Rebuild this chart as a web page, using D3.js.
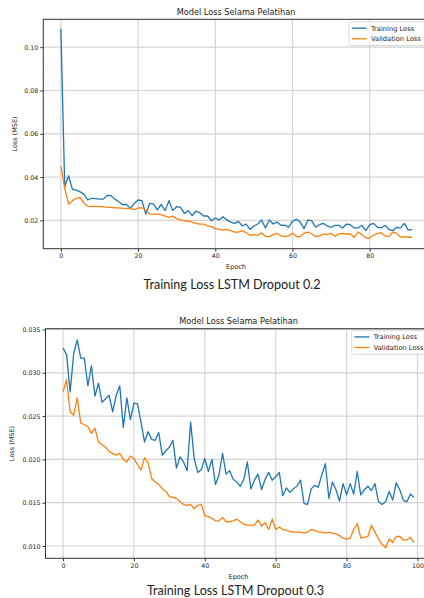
<!DOCTYPE html>
<html>
<head>
<meta charset="utf-8">
<script src="https://cdn.jsdelivr.net/npm/d3@7"></script>
<style>
  html, body { margin: 0; padding: 0; background: #ffffff; }
  svg { display: block; }
  text { font-family: "DejaVu Sans", sans-serif; fill: #222; }
</style>
</head>
<body>
<svg id="chart" width="424" height="598"></svg>
<script>
// ---------- DATA ----------
const chartTitle = "Model Loss Selama Pelatihan";
const seriesNames = ["Training Loss", "Validation Loss"];
const xLabel = "Epoch";
const yLabel = "Loss (MSE)";
const captions = ["Training Loss LSTM Dropout 0.2", "Training Loss LSTM Dropout 0.3"];

const xTicks1 = [0, 20, 40, 60, 80];
const yTicks1 = [0.02, 0.04, 0.06, 0.08, 0.10];
const xTicks2 = [0, 20, 40, 60, 80, 100];
const yTicks2 = [0.010, 0.015, 0.020, 0.025, 0.030, 0.035];

// Dropout 0.2 (epochs 0..91)
const train1 = [0.1085,0.0355,0.0406,0.0343,0.0340,0.0332,0.0320,0.0294,0.0302,0.0300,
  0.0298,0.0298,0.0315,0.0314,0.0298,0.0286,0.0272,0.0274,0.0254,0.0278,
  0.0294,0.0291,0.0229,0.0278,0.0275,0.0248,0.0274,0.0245,0.0291,0.0245,
  0.0263,0.0260,0.0232,0.0245,0.0222,0.0243,0.0235,0.0220,0.0220,0.0198,
  0.0211,0.0202,0.0217,0.0202,0.0192,0.0186,0.0195,0.0174,0.0183,0.0158,
  0.0174,0.0183,0.0202,0.0165,0.0202,0.0183,0.0192,0.0177,0.0178,0.0168,
  0.0195,0.0205,0.0192,0.0162,0.0202,0.0198,0.0168,0.0180,0.0186,0.0174,
  0.0168,0.0177,0.0177,0.0165,0.0183,0.0180,0.0165,0.0165,0.0177,0.0152,
  0.0180,0.0186,0.0168,0.0165,0.0177,0.0158,0.0152,0.0168,0.0165,0.0186,
  0.0155,0.0158];
const val1 = [0.0451,0.0348,0.0275,0.0291,0.0302,0.0306,0.0278,0.0266,0.0265,0.0265,
  0.0263,0.0263,0.0260,0.0260,0.0258,0.0258,0.0255,0.0255,0.0254,0.0249,
  0.0257,0.0258,0.0248,0.0229,0.0229,0.0229,0.0226,0.0220,0.0214,0.0220,
  0.0208,0.0202,0.0198,0.0197,0.0192,0.0186,0.0183,0.0183,0.0174,0.0171,
  0.0162,0.0158,0.0155,0.0158,0.0152,0.0146,0.0146,0.0152,0.0143,0.0131,
  0.0134,0.0131,0.0143,0.0125,0.0125,0.0134,0.0140,0.0128,0.0125,0.0128,
  0.0140,0.0125,0.0125,0.0140,0.0146,0.0137,0.0125,0.0128,0.0137,0.0134,
  0.0140,0.0125,0.0137,0.0140,0.0137,0.0137,0.0122,0.0146,0.0134,0.0118,
  0.0118,0.0131,0.0140,0.0143,0.0128,0.0125,0.0146,0.0140,0.0122,0.0125,
  0.0122,0.0122];

// Dropout 0.3 (epochs 0..99)
const train2 = [0.03285,0.0321,0.0278,0.0322,0.0338,0.0317,0.0317,0.0285,0.0308,0.0273,
  0.0288,0.0266,0.0270,0.0274,0.0255,0.0274,0.0285,0.0237,0.0271,0.0246,
  0.0265,0.0264,0.0243,0.0220,0.0232,0.0223,0.0222,0.0231,0.0205,0.0210,
  0.0214,0.0222,0.0190,0.0203,0.0197,0.0187,0.0243,0.0201,0.0185,0.0188,
  0.0201,0.0186,0.0200,0.0171,0.0182,0.0207,0.0183,0.0187,0.0177,0.0174,
  0.0169,0.0177,0.0197,0.0166,0.0176,0.0183,0.0165,0.0177,0.0185,0.0176,
  0.0180,0.0185,0.0158,0.0167,0.0162,0.0166,0.0169,0.0176,0.0149,0.0148,
  0.0166,0.0170,0.0168,0.0182,0.0195,0.0155,0.0174,0.0165,0.0152,0.0172,
  0.0159,0.0172,0.0160,0.0186,0.0159,0.0165,0.0169,0.0164,0.0172,0.0151,
  0.0148,0.0151,0.0163,0.0153,0.0173,0.0165,0.0153,0.0151,0.0160,0.0156];
const val2 = [0.0278,0.0292,0.0255,0.0251,0.0271,0.0242,0.0240,0.0238,0.0230,0.0236,
  0.0220,0.0217,0.0214,0.0209,0.0207,0.0205,0.0207,0.0200,0.0197,0.0204,
  0.0201,0.0194,0.0188,0.0202,0.0196,0.0178,0.0174,0.0171,0.0166,0.0163,
  0.0157,0.0156,0.0155,0.0151,0.0148,0.0147,0.0148,0.0143,0.0147,0.0148,
  0.0135,0.0134,0.0132,0.0129,0.0129,0.0133,0.0128,0.0128,0.0129,0.0131,
  0.0128,0.0125,0.0124,0.0124,0.0124,0.0130,0.0123,0.0127,0.0119,0.0131,
  0.0119,0.0122,0.0119,0.0118,0.0117,0.0116,0.0116,0.0116,0.0115,0.0116,
  0.0119,0.0118,0.0116,0.0116,0.0115,0.0116,0.0115,0.0114,0.0112,0.0109,
  0.0108,0.0109,0.0119,0.0126,0.0109,0.0110,0.0111,0.0124,0.0116,0.0108,
  0.0102,0.0098,0.0108,0.0104,0.0111,0.0111,0.0107,0.0107,0.0110,0.0104];

const colors = ["#1f77b4", "#ff7f0e"];

// ---------- DRAW ----------
const svg = d3.select("#chart");

function drawPanel(cfg) {
  const g = svg.append("g");
  const x = d3.scaleLinear().domain(cfg.xDomain).range([cfg.left, cfg.right]);
  const y = d3.scaleLinear().domain(cfg.yDomain).range([cfg.bottom, cfg.top]);

  // grid
  g.append("g").selectAll("line").data(cfg.xTicks).join("line")
    .attr("x1", d => x(d)).attr("x2", d => x(d))
    .attr("y1", cfg.top).attr("y2", cfg.bottom)
    .attr("stroke", "#d4d4d4").attr("stroke-width", 1.2);
  g.append("g").selectAll("line").data(cfg.yTicks).join("line")
    .attr("x1", cfg.left).attr("x2", cfg.right)
    .attr("y1", d => y(d)).attr("y2", d => y(d))
    .attr("stroke", "#d4d4d4").attr("stroke-width", 1.2);

  // lines
  const line = d3.line().x((d, i) => x(i)).y(d => y(d));
  cfg.series.forEach((s, k) => {
    g.append("path").datum(s).attr("d", line)
      .attr("fill", "none").attr("stroke", colors[k])
      .attr("stroke-width", 1.3).attr("stroke-linejoin", "round");
  });

  // axes
  const xAxis = d3.axisBottom(x).tickValues(cfg.xTicks).tickSize(3).tickPadding(2).tickFormat(d3.format("d"));
  const yAxis = d3.axisLeft(y).tickValues(cfg.yTicks).tickSize(3).tickPadding(2).tickFormat(d3.format(cfg.yFmt));
  const gx = g.append("g").attr("transform", `translate(0,${cfg.bottom})`).call(xAxis);
  const gy = g.append("g").attr("transform", `translate(${cfg.left},0)`).call(yAxis);
  [gx, gy].forEach(a => {
    a.select(".domain").remove();
    a.selectAll("line").attr("stroke", "#333");
    a.selectAll("text").style("font-family", "DejaVu Sans").style("font-size", "6.3px").attr("fill", "#222");
  });

  // spines
  g.append("rect").attr("x", cfg.left).attr("y", cfg.top)
    .attr("width", cfg.right - cfg.left).attr("height", cfg.bottom - cfg.top)
    .attr("fill", "none").attr("stroke", "#333").attr("stroke-width", 1);

  // title
  g.append("text").attr("x", cfg.titleX).attr("y", cfg.titleY)
    .attr("text-anchor", "middle").style("font-size", "8.2px").text(chartTitle);
  // x label
  g.append("text").attr("x", cfg.titleX).attr("y", cfg.bottom + 20.5)
    .attr("text-anchor", "middle").style("font-size", "6.5px").text(xLabel);
  // y label
  g.append("text").attr("transform", `translate(${cfg.ylabX},${(cfg.top + cfg.bottom) / 2}) rotate(-90)`)
    .attr("text-anchor", "middle").style("font-size", "6.5px").text(yLabel);

  // legend
  const lg = g.append("g").attr("transform", `translate(${cfg.legX},${cfg.legY})`);
  lg.append("rect").attr("x", 0).attr("y", 0).attr("width", 90).attr("height", 23.5)
    .attr("rx", 2).attr("fill", "#ffffff").attr("fill-opacity", 0.85)
    .attr("stroke", "#d0d0d0").attr("stroke-width", 0.8);
  seriesNames.forEach((n, k) => {
    const yy = 6.2 + k * 10.6;
    lg.append("line").attr("x1", 2.7).attr("x2", 17.7).attr("y1", yy).attr("y2", yy)
      .attr("stroke", colors[k]).attr("stroke-width", 1.3);
    lg.append("text").attr("x", 22).attr("y", yy + 2.3).style("font-size", "6.7px").text(n);
  });

  // caption
  svg.append("text").attr("x", cfg.capX).attr("y", cfg.capY)
    .attr("text-anchor", "middle")
    .style("font-family", "Lato, 'Open Sans', sans-serif").style("font-size", "12.6px")
    .attr("fill", "#3a4556").text(cfg.caption);
}

drawPanel({
  series: [train1, val1], xTicks: xTicks1, yTicks: yTicks1, yFmt: ".2f",
  xDomain: [-4.55, 95.55], yDomain: [0.0069, 0.1129],
  left: 43.3, right: 429.7, top: 19.3, bottom: 248.7,
  titleX: 236, titleY: 15, ylabX: 16.5, legX: 349, legY: 22,
  caption: captions[0], capX: 232, capY: 288.5
});
drawPanel({
  series: [train2, val2], xTicks: xTicks2, yTicks: yTicks2, yFmt: ".3f",
  xDomain: [-4.95, 103.95], yDomain: [0.00858, 0.03509],
  left: 45.5, right: 431.5, top: 328.7, bottom: 558.3,
  titleX: 238.5, titleY: 324, ylabX: 14, legX: 351.7, legY: 330.7,
  caption: captions[1], capX: 235.5, capY: 595
});
</script>
</body>
</html>
